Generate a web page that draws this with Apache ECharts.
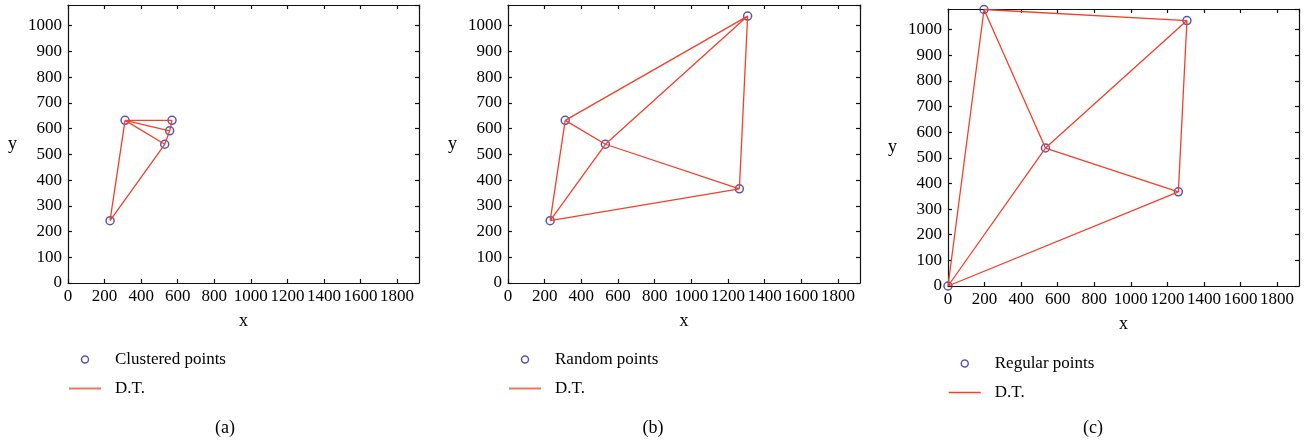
<!DOCTYPE html>
<html>
<head>
<meta charset="utf-8">
<script src="https://cdn.jsdelivr.net/npm/echarts@6/dist/echarts.min.js"></script>
<style>
html,body{margin:0;padding:0;background:#fff;}
#chart{width:1306px;height:445px;}
</style>
</head>
<body>
<div id="chart"></div>
<script>
// ---- data ----
const xTicks = [0,200,400,600,800,1000,1200,1400,1600,1800];
const yTicks = [0,100,200,300,400,500,600,700,800,900,1000];
const clusteredPts = [[230,242],[312,632],[569,632],[556,591],[529,539]];
const clusteredEdges = [[0,1],[0,4],[1,2],[1,3],[1,4],[2,3],[3,4]];
const randomPts = [[230,242],[312,632],[531,539],[1262,366],[1307,1037]];
const randomEdges = [[0,1],[0,2],[0,3],[1,2],[1,4],[2,3],[2,4],[3,4]];
const regularPts = [[0,0],[197,1078],[1307,1035],[533,538],[1260,367]];
const regularEdges = [[0,1],[0,3],[0,4],[1,2],[1,3],[2,3],[3,4],[2,4]];
const pointNames = ['Clustered points','Random points','Regular points'];
const panelLabels = ['(a)','(b)','(c)'];
const lineName = 'D.T.';

// ---- style ----
const FONT = '"Liberation Serif","DejaVu Serif",serif';
const BLUE = '#2f2a9c';
const RED = '#f2402a';
const X_MAX = 1920, Y_MAX = 1080;

const panels = [
  {pts: clusteredPts, edges: clusteredEdges, grid:{left:68, top:5, width:351, height:278}, legendTop:351, labelX:225},
  {pts: randomPts, edges: randomEdges, grid:{left:508, top:5, width:352, height:278}, legendTop:351, labelX:653},
  {pts: regularPts, edges: regularEdges, grid:{left:948, top:9, width:351, height:277}, legendTop:355, labelX:1093}
];

function edgeData(pts, edges){
  const out = [];
  edges.forEach(function(e, i){
    if (i > 0) out.push([null, null]);
    out.push(pts[e[0]]);
    out.push(pts[e[1]]);
  });
  return out;
}

const grids = [], xAxes = [], yAxes = [], series = [], legends = [], graphics = [];
const labelStyle = {color:'#000', fontFamily: FONT, fontSize: 17};

panels.forEach(function(p, i){
  grids.push(Object.assign({containLabel:false}, p.grid));
  const axisLine = {show:true, onZero:false, lineStyle:{color:'#111', width:1.2}};
  const tick = {show:true, inside:true, length:4, lineStyle:{color:'#111', width:1.2}};
  // bottom x
  xAxes.push({type:'value', gridIndex:i, min:0, max:X_MAX, interval:200, position:'bottom',
    axisLine:axisLine, axisTick:tick, splitLine:{show:false},
    axisLabel:Object.assign({margin:5, showMaxLabel:false,
      formatter:function(v){ return xTicks.indexOf(v) >= 0 ? String(v) : ''; }}, labelStyle),
    name:'x', nameLocation:'middle', nameGap:29, nameTextStyle:{color:'#000', fontFamily:FONT, fontSize:18}});
  // top x (ticks only)
  xAxes.push({type:'value', gridIndex:i, min:0, max:X_MAX, interval:200, position:'top',
    axisLine:axisLine, axisTick:tick, axisLabel:{show:false}, splitLine:{show:false}});
  // left y
  yAxes.push({type:'value', gridIndex:i, min:0, max:Y_MAX, interval:100, position:'left',
    axisLine:axisLine, axisTick:tick, splitLine:{show:false},
    axisLabel:Object.assign({margin:6, showMaxLabel:false,
      formatter:function(v){ return yTicks.indexOf(v) >= 0 ? String(v) : ''; }}, labelStyle),
    name:'y', nameLocation:'middle', nameRotate:0, nameGap:51, nameTextStyle:{color:'#000', fontFamily:FONT, fontSize:18}});
  // right y (ticks only)
  yAxes.push({type:'value', gridIndex:i, min:0, max:Y_MAX, interval:100, position:'right',
    axisLine:axisLine, axisTick:tick, axisLabel:{show:false}, splitLine:{show:false}});

  series.push({type:'line', name:lineName, xAxisIndex:2*i, yAxisIndex:2*i,
    data: edgeData(p.pts, p.edges), symbol:'none', connectNulls:false,
    lineStyle:{color:RED, width:1.3}, itemStyle:{color:RED}, z:3, animation:false});
  series.push({type:'scatter', name:pointNames[i], xAxisIndex:2*i, yAxisIndex:2*i,
    data: p.pts, symbol:'circle', symbolSize:8,
    itemStyle:{color:'rgba(255,255,255,0)', borderColor:BLUE, borderWidth:1.5}, z:2, animation:false});

  legends.push({orient:'vertical', left:p.grid.left, top:p.legendTop, padding:0,
    itemWidth:32, itemHeight:7, itemGap:12, selectedMode:false,
    textStyle:{color:'#000', fontFamily:FONT, fontSize:17, padding:[0,0,0,9]},
    data:[
      {name:pointNames[i], icon:'circle', itemStyle:{color:'rgba(255,255,255,0)', borderColor:BLUE, borderWidth:1.5}},
      {name:lineName, itemStyle:{color:'rgba(0,0,0,0)', borderColor:'rgba(0,0,0,0)', borderWidth:0, opacity:0},
        lineStyle:{color: i < 2 ? '#f2735e' : RED, width: i < 2 ? 2 : 1.5}}
    ]});

  graphics.push({type:'text', x:p.labelX, y:428, style:{text:panelLabels[i], fill:'#000', font:'18px ' + FONT, textAlign:'center', textVerticalAlign:'middle'}});
});

const chart = echarts.init(document.getElementById('chart'), null, {renderer:'canvas'});
chart.setOption({
  animation:false,
  backgroundColor:'#fff',
  grid:grids, xAxis:xAxes, yAxis:yAxes, series:series, legend:legends, graphic:graphics
});
</script>
</body>
</html>
